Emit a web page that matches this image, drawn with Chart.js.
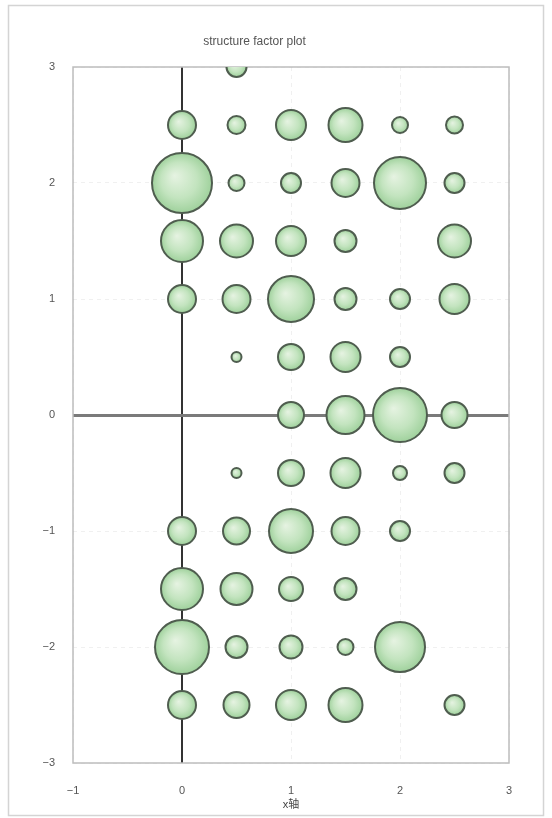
<!DOCTYPE html>
<html>
<head>
<meta charset="utf-8">
<script src="https://cdn.jsdelivr.net/npm/chart.js@4.4.1/dist/chart.umd.min.js"></script>
<style>
  html, body { margin: 0; padding: 0; background: #fff; }
  #wrap { width: 552px; height: 818px; }
</style>
</head>
<body>
<div id="wrap"><canvas id="sfChart" width="552" height="818"></canvas></div>
<script>
// reflection positions (h, k) and bubble radius in px
const hValues = [
  0.5,
  0, 0.5, 1, 1.5, 2, 2.5,
  0, 0.5, 1, 1.5, 2, 2.5,
  0, 0.5, 1, 1.5, 2.5,
  0, 0.5, 1, 1.5, 2, 2.5,
  0.5, 1, 1.5, 2,
  1, 1.5, 2, 2.5,
  0.5, 1, 1.5, 2, 2.5,
  0, 0.5, 1, 1.5, 2,
  0, 0.5, 1, 1.5,
  0, 0.5, 1, 1.5, 2,
  0, 0.5, 1, 1.5, 2.5
];
const kValues = [
  3,
  2.5, 2.5, 2.5, 2.5, 2.5, 2.5,
  2, 2, 2, 2, 2, 2,
  1.5, 1.5, 1.5, 1.5, 1.5,
  1, 1, 1, 1, 1, 1,
  0.5, 0.5, 0.5, 0.5,
  0, 0, 0, 0,
  -0.5, -0.5, -0.5, -0.5, -0.5,
  -1, -1, -1, -1, -1,
  -1.5, -1.5, -1.5, -1.5,
  -2, -2, -2, -2, -2,
  -2.5, -2.5, -2.5, -2.5, -2.5
];
const radii = [
  10,
  14, 9, 15, 17, 8, 8.5,
  30, 8, 10, 14, 26, 10,
  21, 16.5, 15, 11, 16.5,
  14, 14, 23, 11, 10, 15,
  5, 13, 15, 10,
  13, 19, 27, 13,
  5, 13, 15, 7, 10,
  14, 13.5, 22, 14, 10,
  21, 16, 12, 11,
  27, 11, 11.5, 8, 25,
  14, 13, 15, 17, 10
];
const xTicks = [-1, 0, 1, 2, 3];
const yTicks = [-3, -2, -1, 0, 1, 2, 3];

const points = hValues.map((h, i) => ({ x: h, y: kValues[i], r: radii[i] }));

const fontFamily = '"Liberation Sans", "Noto Sans CJK SC", sans-serif';

function bubbleFill(context) {
  const chart = context.chart;
  const raw = context.raw;
  if (!raw || !chart.scales.x) return '#b5dcb0';
  const px = chart.scales.x.getPixelForValue(raw.x);
  const py = chart.scales.y.getPixelForValue(raw.y);
  if (isNaN(px) || isNaN(py)) return '#b5dcb0';
  const g = chart.ctx.createRadialGradient(px - raw.r * 0.25, py - raw.r * 0.25, 0, px, py, raw.r);
  g.addColorStop(0, '#e6f3e2');
  g.addColorStop(0.6, '#c3e4bf');
  g.addColorStop(1, '#9fd19c');
  return g;
}

// uses a real minus sign like the original
function tickText(value) {
  return value < 0 ? '\u2212' + Math.abs(value) : String(value);
}

const framePlugin = {
  id: 'framePlugin',
  beforeDraw(chart) {
    const c = chart.ctx;
    c.save();
    c.fillStyle = '#fff';
    c.fillRect(0, 0, chart.width, chart.height);
    c.strokeStyle = '#d4d4d4';
    c.lineWidth = 1.5;
    c.strokeRect(8.5, 5.5, 535, 810);
    c.restore();
  },
  beforeDatasetsDraw(chart) {
    const a = chart.chartArea;
    const c = chart.ctx;
    c.save();
    c.strokeStyle = '#bdbdbd';
    c.lineWidth = 1.5;
    c.strokeRect(a.left, a.top, a.right - a.left, a.bottom - a.top);
    c.restore();
  }
};

new Chart(document.getElementById('sfChart'), {
  type: 'bubble',
  data: {
    datasets: [{
      label: 'structure factor',
      data: points,
      backgroundColor: bubbleFill,
      borderColor: '#4f5d4f',
      borderWidth: 2,
      hoverBorderWidth: 2,
      clip: 0
    }]
  },
  options: {
    responsive: false,
    animation: false,
    events: [],
    layout: { padding: { top: 34, right: 43, bottom: 0, left: 0 } },
    plugins: {
      legend: { display: false },
      tooltip: { enabled: false },
      title: {
        display: true,
        text: 'structure factor plot',
        color: '#555',
        font: { family: fontFamily, size: 12, weight: 'normal' },
        padding: { top: 0, bottom: 18.6 }
      }
    },
    scales: {
      x: {
        type: 'linear',
        min: -1,
        max: 3,
        afterBuildTicks(scale) { scale.ticks = xTicks.map(v => ({ value: v })); },
        afterFit(scale) { scale.height = 55; },
        grid: {
          drawTicks: false,
          color: ctx => (ctx.tick && ctx.tick.value === 0) ? '#333' : 'rgba(0,0,0,0.06)',
          lineWidth: ctx => (ctx.tick && ctx.tick.value === 0) ? 2 : 1
        },
        border: {
          display: false,
          dash: ctx => (ctx.tick && ctx.tick.value === 0) ? [] : [4, 4]
        },
        ticks: {
          padding: 21,
          color: '#555',
          font: { family: fontFamily, size: 11 },
          callback: tickText
        },
        title: {
          display: true,
          text: 'x轴',
          color: '#444',
          font: { family: fontFamily, size: 11 },
          padding: { top: 0, bottom: 6 }
        }
      },
      y: {
        type: 'linear',
        min: -3,
        max: 3,
        afterBuildTicks(scale) { scale.ticks = yTicks.map(v => ({ value: v })); },
        afterFit(scale) { scale.width = 73; },
        grid: {
          drawTicks: false,
          color: ctx => (ctx.tick && ctx.tick.value === 0) ? '#7a7a7a' : 'rgba(0,0,0,0.06)',
          lineWidth: ctx => (ctx.tick && ctx.tick.value === 0) ? 3 : 1
        },
        border: {
          display: false,
          dash: ctx => (ctx.tick && ctx.tick.value === 0) ? [] : [4, 4]
        },
        ticks: {
          padding: 18,
          color: '#555',
          font: { family: fontFamily, size: 11 },
          callback: tickText
        }
      }
    }
  },
  plugins: [framePlugin]
});
</script>
</body>
</html>
